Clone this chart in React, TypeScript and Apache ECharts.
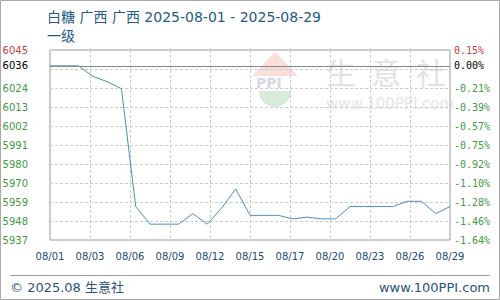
import React, { useEffect, useRef } from "react";
import * as echarts from "echarts";

const dates = [
  "08/01", "08/02", "08/03", "08/04", "08/05", "08/06", "08/07", "08/08", "08/09", "08/10",
  "08/11", "08/12", "08/13", "08/14", "08/15", "08/16", "08/17", "08/18", "08/19", "08/20",
  "08/21", "08/22", "08/23", "08/24", "08/25", "08/26", "08/27", "08/28", "08/29",
];
const prices = [
  6036, 6036, 6036, 6030, 6027, 6023, 5956, 5946, 5946, 5946,
  5952, 5946, 5955, 5966, 5951, 5951, 5951, 5949, 5950, 5949,
  5949, 5956, 5956, 5956, 5956, 5959, 5959, 5952, 5956,
];
const basePrice = 6036;
const yMin = 5937;
const yMax = 6045;
const yStep = 10.8;
const leftTickLabels = ["5937", "5948", "5959", "5970", "5980", "5991", "6002", "6013", "6024", "", "6045"];
const rightTickLabels = ["-1.64%", "-1.46%", "-1.28%", "-1.10%", "-0.92%", "-0.75%", "-0.57%", "-0.39%", "-0.21%", "", "0.15%"];
const titleText = "白糖 广西 广西 2025-08-01 - 2025-08-29";
const subTitleText = "一级";

const GREEN = "#3f9a3f";
const RED = "#cc3b3b";
const FONT = "DejaVu Sans, Noto Sans CJK SC, sans-serif";
const MONO = "DejaVu Sans Mono, monospace";

export default function App() {
  const ref = useRef<HTMLDivElement>(null);
  useEffect(() => {
    if (!ref.current) return;
    const chart = echarts.init(ref.current, null, { renderer: "svg" });
    const last = dates.length - 1;
    const xStep = last / 10;
    chart.setOption({
      animation: false,
      backgroundColor: "#fff",
      title: {
        text: titleText + "\n" + subTitleText,
        left: 47,
        top: 7,
        padding: 0,
        textStyle: {
          color: "#245a86",
          fontSize: 14,
          fontWeight: "normal",
          fontFamily: FONT,
          lineHeight: 19,
        },
      },
      grid: {
        left: 50,
        right: 50,
        top: 50,
        bottom: 60,
        show: true,
        borderColor: "#999",
        borderWidth: 1,
        backgroundColor: "transparent",
        containLabel: false,
        outerBoundsMode: "none",
      },
      xAxis: {
        type: "value",
        min: 0,
        max: last,
        interval: xStep,
        axisLine: { show: false },
        axisTick: { show: false },
        splitLine: { show: true, lineStyle: { color: "#ccc", type: [3, 2] } },
        axisLabel: {
          margin: 11,
          color: "#1f4a70",
          fontSize: 10,
          fontFamily: FONT,
          showMinLabel: true,
          showMaxLabel: true,
          formatter: (v: number) => dates[Math.min(last, Math.floor(v + 1e-6))],
        },
      },
      yAxis: [
        {
          type: "value",
          min: yMin,
          max: yMax,
          interval: yStep,
          position: "left",
          axisLine: { show: false },
          axisTick: { show: false },
          splitLine: { show: true, lineStyle: { color: "#ccc", type: [3, 2] } },
          axisLabel: {
            margin: 22,
            fontSize: 10,
            fontFamily: FONT,
            showMinLabel: true,
            showMaxLabel: true,
            formatter: (_v: number, i: number) => {
              const t = leftTickLabels[i] ?? "";
              if (!t) return "";
              return i === leftTickLabels.length - 1 ? "{r|" + t + "}" : "{g|" + t + "}";
            },
            rich: {
              r: { color: RED, fontSize: 10, fontFamily: FONT },
              g: { color: GREEN, fontSize: 10, fontFamily: FONT },
            },
          },
        },
        {
          type: "value",
          min: yMin,
          max: yMax,
          interval: yStep,
          position: "right",
          axisLine: { show: false },
          axisTick: { show: false },
          splitLine: { show: false },
          axisLabel: {
            margin: 4,
            fontSize: 10,
            fontFamily: MONO,
            showMinLabel: true,
            showMaxLabel: true,
            formatter: (_v: number, i: number) => {
              const t = rightTickLabels[i] ?? "";
              if (!t) return "";
              return i === rightTickLabels.length - 1 ? "{r|" + t + "}" : "{g|" + t + "}";
            },
            rich: {
              r: { color: RED, fontSize: 10, fontFamily: MONO },
              g: { color: GREEN, fontSize: 10, fontFamily: MONO },
            },
          },
        },
      ],
      series: [
        {
          type: "line",
          z: 1,
          data: [],
          silent: true,
          markLine: {
            silent: true,
            symbol: "none",
            lineStyle: { color: "#888", type: "solid", width: 1 },
            data: [
              {
                yAxis: basePrice,
                label: {
                  show: true,
                  position: "start",
                  distance: 22,
                  formatter: String(basePrice),
                  color: "#000",
                  fontSize: 10,
                  fontWeight: "normal",
                  fontFamily: FONT,
                },
              },
              {
                yAxis: basePrice,
                label: {
                  show: true,
                  position: "end",
                  distance: 4,
                  formatter: "0.00%",
                  color: "#000",
                  fontSize: 10,
                  fontWeight: "normal",
                  fontFamily: MONO,
                },
              },
            ],
          },
        },
        {
          type: "line",
          z: 3,
          data: prices.map((p, i) => [i, p]),
          showSymbol: false,
          symbol: "none",
          lineStyle: { color: "#4a8fc0", width: 1 },
          itemStyle: { color: "#4a8fc0" },
        },
      ],
      graphic: [
        {
          type: "rect",
          shape: { x: 0.5, y: 0.5, width: 499, height: 299 },
          style: { fill: "none", stroke: "#aaa", lineWidth: 1 },
          silent: true,
        },
        {
          type: "group",
          silent: true,
          z: 0,
          children: [
            {
              type: "polygon",
              shape: { points: [[275, 52], [298, 76], [252, 76]] },
              style: { fill: "#f6c8c0", opacity: 0.6 },
            },
            {
              type: "text",
              x: 256,
              y: 76,
              style: { text: "PPI", fill: "#c8cedc", font: "bold 14px DejaVu Sans", opacity: 0.8 },
            },
            {
              type: "sector",
              shape: { cx: 275, cy: 91, r0: 0, r: 16, startAngle: 0, endAngle: Math.PI },
              style: { fill: "#c4e4c4", opacity: 0.7 },
            },
            {
              type: "text",
              x: 326,
              y: 56,
              style: { text: "生", fill: "#e2e2e2", font: "30px Noto Sans CJK SC" },
            },
            {
              type: "text",
              x: 371,
              y: 56,
              style: { text: "意", fill: "#e2e2e2", font: "30px Noto Sans CJK SC" },
            },
            {
              type: "text",
              x: 416,
              y: 56,
              style: { text: "社", fill: "#e2e2e2", font: "30px Noto Sans CJK SC" },
            },
            {
              type: "text",
              x: 326,
              y: 96,
              style: { text: "www.100PPI.com", fill: "#e6e6e6", font: "15px DejaVu Sans" },
            },
          ],
        },
        {
          type: "line",
          shape: { x1: 10, y1: 275.5, x2: 490, y2: 275.5 },
          style: { stroke: "#999", lineWidth: 1 },
          silent: true,
        },
        {
          type: "text",
          x: 10,
          y: 287,
          style: {
            text: "© 2025.08 生意社",
            fill: "#2d5278",
            font: "13px DejaVu Sans, Noto Sans CJK SC",
            textVerticalAlign: "middle",
          },
          silent: true,
        },
        {
          type: "text",
          x: 490,
          y: 287,
          style: {
            text: "www.100PPI.com",
            fill: "#2d5278",
            font: "13px DejaVu Sans",
            textAlign: "right",
            textVerticalAlign: "middle",
          },
          silent: true,
        },
      ],
    });
    return () => chart.dispose();
  }, []);
  return (
    <div
      ref={ref}
      style={{ position: "fixed", left: 0, top: 0, width: 500, height: 300 }}
    />
  );
}
